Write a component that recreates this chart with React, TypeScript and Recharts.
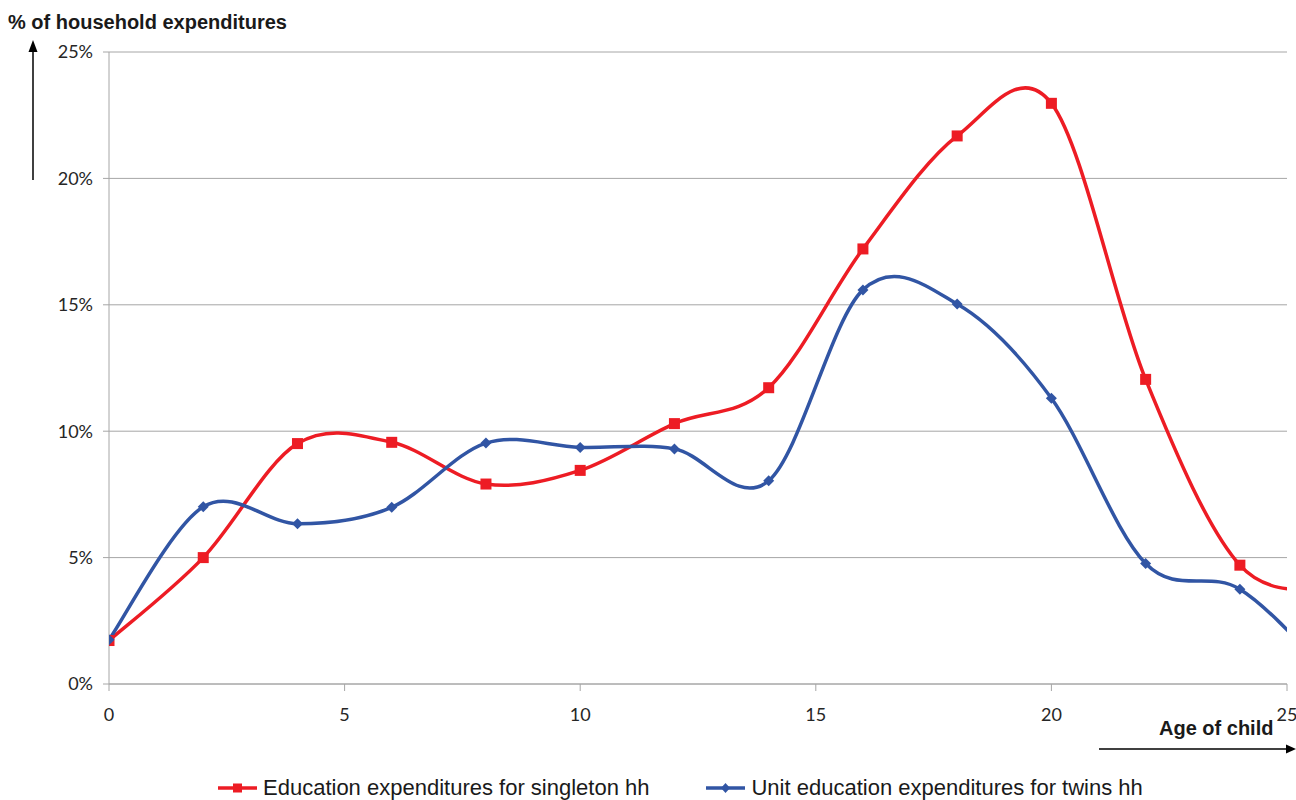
import React from "react"
import { LineChart, Line, XAxis, YAxis, CartesianGrid } from "recharts"

// age of child (years) – 26 lies just beyond the axis and only shapes the tail
const ages = [0, 2, 4, 6, 8, 10, 12, 14, 16, 18, 20, 22, 24, 26]
// education spending as % of household expenditures
const singletonShare = [1.72, 5.0, 9.51, 9.56, 7.91, 8.45, 10.3, 11.72, 17.21, 21.68, 22.97, 12.05, 4.7, 3.7]
const twinsShare = [1.75, 7.01, 6.34, 6.99, 9.53, 9.36, 9.3, 8.04, 15.59, 15.03, 11.3, 4.77, 3.75, 0.2]

const xTicks = [0, 5, 10, 15, 20, 25]
const yTicks = [0, 5, 10, 15, 20, 25]

const seriesNames = {
  singleton: "Education expenditures for singleton hh",
  twins: "Unit education expenditures for twins hh",
}

const RED = "#ED1C24"
const BLUE = "#3155A4"
const GRID = "#A6A6A6"

const data = ages.map((age, i) => ({
  age,
  singleton: singletonShare[i],
  twins: twinsShare[i],
}))

// spreadsheet-style smoothing: bezier segments with 1/6 neighbour tangents
function smoothCurve(context: any) {
  let xs: number[] = []
  let ys: number[] = []
  return {
    areaStart() {},
    areaEnd() {},
    lineStart() {
      xs = []
      ys = []
    },
    point(x: number, y: number) {
      xs.push(+x)
      ys.push(+y)
    },
    lineEnd() {
      const n = xs.length
      if (!n) return
      context.moveTo(xs[0], ys[0])
      for (let i = 0; i < n - 1; i++) {
        const a = Math.max(i - 1, 0)
        const d = Math.min(i + 2, n - 1)
        context.bezierCurveTo(
          xs[i] + (xs[i + 1] - xs[a]) / 6,
          ys[i] + (ys[i + 1] - ys[a]) / 6,
          xs[i + 1] - (xs[d] - xs[i]) / 6,
          ys[i + 1] - (ys[d] - ys[i]) / 6,
          xs[i + 1],
          ys[i + 1]
        )
      }
    },
  }
}

const SquareDot = (props: any) => {
  const { cx, cy, index } = props
  if (cx == null || cy == null) return <g key={`sq-${index}`} />
  return <rect key={`sq-${index}`} x={cx - 5.5} y={cy - 5.5} width={11} height={11} fill={RED} />
}

const DiamondDot = (props: any) => {
  const { cx, cy, index } = props
  if (cx == null || cy == null) return <g key={`dm-${index}`} />
  return (
    <polygon
      key={`dm-${index}`}
      points={`${cx},${cy - 5.5} ${cx + 5.5},${cy} ${cx},${cy + 5.5} ${cx - 5.5},${cy}`}
      fill={BLUE}
    />
  )
}

const tickStyle = { fontFamily: "Lato, sans-serif", fontSize: 18, fill: "#262626" }

function LegendItem({ color, label, marker }: { color: string; label: string; marker: "square" | "diamond" }) {
  return (
    <div style={{ display: "flex", alignItems: "center" }}>
      <svg width={40} height={14} style={{ marginRight: 5 }}>
        <line x1={0} y1={7} x2={39} y2={7} stroke={color} strokeWidth={3.5} />
        {marker === "square" ? (
          <rect x={15} y={2.5} width={9} height={9} fill={color} />
        ) : (
          <polygon points="19.5,2 24,7 19.5,12 15,7" fill={color} />
        )}
      </svg>
      <span>{label}</span>
    </div>
  )
}

export default function App() {
  return (
    <div style={{ position: "absolute", left: 0, top: 0, width: 1296, height: 800, background: "#fff" }}>
      <LineChart width={1296} height={800} data={data} margin={{ top: 52, right: 9, bottom: 86, left: 49 }}>
        <CartesianGrid vertical={false} stroke={GRID} strokeWidth={1} />
        <XAxis
          dataKey="age"
          type="number"
          domain={[0, 25]}
          ticks={xTicks}
          allowDataOverflow
          interval={0}
          stroke={GRID}
          tickSize={7}
          tickMargin={17}
          tick={tickStyle}
        />
        <YAxis
          type="number"
          domain={[0, 25]}
          ticks={yTicks}
          interval={0}
          stroke={GRID}
          tickSize={6}
          tickMargin={10}
          tick={tickStyle}
          tickFormatter={(v) => `${v}%`}
        />
        <Line
          dataKey="singleton"
          name={seriesNames.singleton}
          type={smoothCurve as any}
          stroke={RED}
          strokeWidth={3.5}
          dot={SquareDot}
          activeDot={false}
          isAnimationActive={false}
        />
        <Line
          dataKey="twins"
          name={seriesNames.twins}
          type={smoothCurve as any}
          stroke={BLUE}
          strokeWidth={3.5}
          dot={DiamondDot}
          activeDot={false}
          isAnimationActive={false}
        />
      </LineChart>

      {/* axis captions with arrows */}
      <svg width={1296} height={800} style={{ position: "absolute", left: 0, top: 0, pointerEvents: "none" }}>
        <text x={8} y={29} fontFamily="'Liberation Sans', Arial, sans-serif" fontWeight="bold" fontSize={20} fill="#1a1a1a">
          % of household expenditures
        </text>
        <line x1={33} y1={180} x2={33} y2={50} stroke="#000" strokeWidth={1.5} />
        <polygon points="33,40 28.5,52 37.5,52" fill="#000" />
        <text x={1159} y={735} fontFamily="'Liberation Sans', Arial, sans-serif" fontWeight="bold" fontSize={20} fill="#1a1a1a">
          Age of child
        </text>
        <line x1={1099} y1={749} x2={1288} y2={749} stroke="#000" strokeWidth={1.5} />
        <polygon points="1296,749 1286,744.5 1286,753.5" fill="#000" />
      </svg>

      <div
        style={{
          position: "absolute",
          left: 218,
          top: 776,
          display: "flex",
          gap: 57,
          fontFamily: "'Liberation Sans', Arial, sans-serif",
          fontSize: 22,
          color: "#1a1a1a",
          lineHeight: "24px",
          whiteSpace: "nowrap",
        }}
      >
        <LegendItem color={RED} label={seriesNames.singleton} marker="square" />
        <LegendItem color={BLUE} label={seriesNames.twins} marker="diamond" />
      </div>
    </div>
  )
}
